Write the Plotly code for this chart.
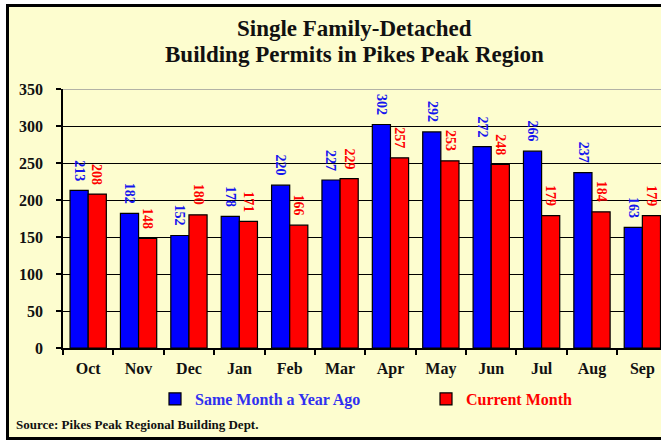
import plotly.graph_objects as go

months = ['Oct', 'Nov', 'Dec', 'Jan', 'Feb', 'Mar', 'Apr', 'May', 'Jun', 'Jul', 'Aug', 'Sep']
year_ago = [213, 182, 152, 178, 220, 227, 302, 292, 272, 266, 237, 163]
current = [208, 148, 180, 171, 166, 229, 257, 253, 248, 179, 184, 179]
y_ticks = [0, 50, 100, 150, 200, 250, 300, 350]

serif = 'Liberation Serif'
bg = '#FDFDCF'
W, H = 661, 441
L, R, T, B = 63, 0, 89, 93
pw, ph = W - L - R, H - T - B


def px_x(px):
    # pixel -> paper x
    return (px - L) / pw


def px_y(py):
    # pixel -> paper y
    return (H - B - py) / ph


fig = go.Figure()

fig.add_trace(go.Bar(x=months, y=year_ago, name='Same Month a Year Ago',
                     marker=dict(color='#0000FF', line=dict(color='black', width=1.2)),
                     legend='legend'))
fig.add_trace(go.Bar(x=months, y=current, name='Current Month',
                     marker=dict(color='#FF0000', line=dict(color='black', width=1.2)),
                     legend='legend2'))

# rotated value labels above each bar (centred, so shift = gap + half the text length)
for m, a, c in zip(months, year_ago, current):
    for val, shift, col in [(a, -9, '#1515EE'), (c, 9, '#FF0000')]:
        fig.add_annotation(x=m, y=val, text=str(val), textangle=90, showarrow=False,
                           xanchor='center', yanchor='middle', xshift=shift, yshift=20,
                           font=dict(family=serif, size=14, color=col, weight='bold'))

# outer frame
fig.add_shape(type='rect', xref='paper', yref='paper',
              x0=px_x(7.5), x1=px_x(700), y0=px_y(438.5), y1=px_y(5.5),
              fillcolor=bg, line=dict(color='black', width=3), layer='below')
# top gridline is grey
fig.add_shape(type='line', xref='paper', yref='y', x0=0, x1=1, y0=350, y1=350,
              line=dict(color='#999999', width=1.5))

for txt, ypx in [('Single Family-Detached', 28), ('Building Permits in Pikes Peak Region', 54)]:
    fig.add_annotation(text=txt, xref='paper', yref='paper', x=px_x(354), y=px_y(ypx),
                       xanchor='center', yanchor='middle', showarrow=False,
                       font=dict(family=serif, size=23, color='#111111', weight='bold'))
fig.add_annotation(text='Source: Pikes Peak Regional Building Dept.',
                   xref='paper', yref='paper', x=px_x(14), y=px_y(424),
                   xanchor='left', yanchor='middle', showarrow=False,
                   font=dict(family=serif, size=13, color='#111111', weight='bold'))

fig.update_layout(
    width=W, height=H, margin=dict(l=L, r=R, t=T, b=B),
    paper_bgcolor='white', plot_bgcolor='rgba(0,0,0,0)',
    barmode='group', bargap=0.28, bargroupgap=0,
    showlegend=True,
    legend=dict(orientation='h', x=px_x(155), y=px_y(399), xanchor='left', yanchor='middle',
                bgcolor='rgba(0,0,0,0)', itemwidth=30,
                font=dict(family=serif, size=16, color='#3030F0', weight='bold')),
    legend2=dict(orientation='h', x=px_x(426), y=px_y(399), xanchor='left', yanchor='middle',
                 bgcolor='rgba(0,0,0,0)', itemwidth=30,
                 font=dict(family=serif, size=16, color='#FF0000', weight='bold')),
)

fig.update_xaxes(range=[-0.5, 11.37], showgrid=False, showline=True, linecolor='black', linewidth=1.5,
                 ticks='outside', tickson='boundaries', ticklen=5, tickcolor='black', tickwidth=1.5,
                 ticklabelstandoff=5,
                 tickfont=dict(family=serif, size=16, color='#111111', weight='bold'))
fig.update_yaxes(range=[0, 350], tickvals=y_ticks, showgrid=True, gridcolor='black', gridwidth=1.2,
                 zeroline=False, showline=True, linecolor='black', linewidth=1.5,
                 ticks='outside', ticklen=5, tickcolor='black', tickwidth=1.5,
                 ticklabelstandoff=10,
                 tickfont=dict(family=serif, size=16, color='#111111', weight='bold'))

fig.write_html('out.html', config={'displayModeBar': False},
               post_script="document.body.style.margin='0';")
